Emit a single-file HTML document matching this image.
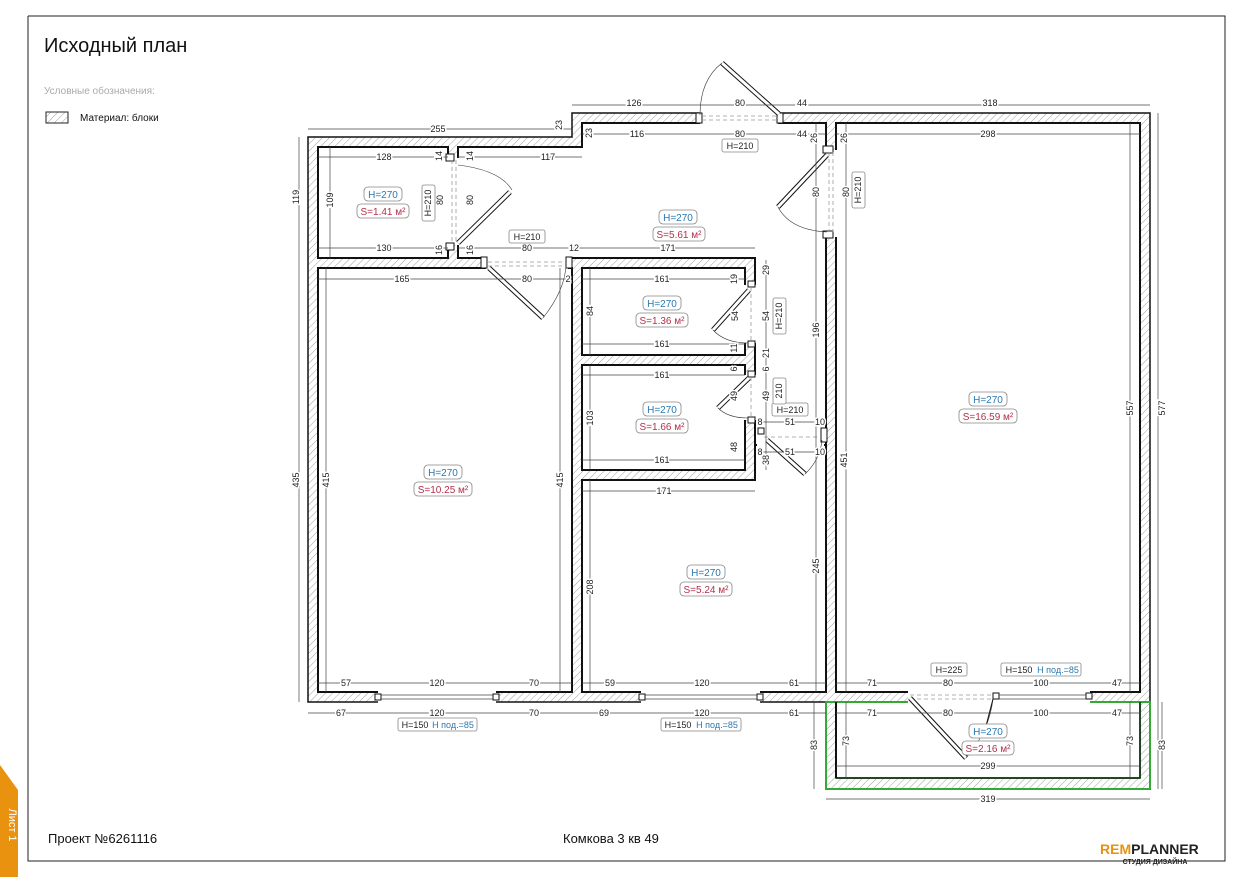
<!DOCTYPE html>
<html><head><meta charset="utf-8"><style>
html,body{margin:0;padding:0;background:#fff;}
svg{display:block;font-family:"Liberation Sans","DejaVu Sans",sans-serif;}
.d{font-size:9px;fill:#222;text-anchor:middle;stroke:#fff;stroke-width:3px;paint-order:stroke;}
.dl{stroke:#444;stroke-width:0.7;fill:none;}
.rm{fill:#fff;stroke:#111;stroke-width:2;}
.lb{fill:#fff;stroke:#888;stroke-width:0.8;}
.h{font-size:10px;fill:#2a78b0;text-anchor:middle;}
.s{font-size:10px;fill:#b3304c;text-anchor:middle;}
.k{font-size:9px;fill:#222;text-anchor:middle;}
</style></head><body>
<svg width="1241" height="877" viewBox="0 0 1241 877" xmlns="http://www.w3.org/2000/svg">
<defs>
<pattern id="hx" width="5" height="5" patternUnits="userSpaceOnUse" patternTransform="rotate(45)">
<rect width="5" height="5" fill="#fff"/><line x1="0" y1="0" x2="0" y2="5" stroke="#888" stroke-width="0.8"/>
</pattern>
</defs>
<!-- frame -->
<polyline points="28,16 1225,16 1225,861 28,861 28,16" fill="none" stroke="#222" stroke-width="1"/>
<polygon points="0,765 18,790 18,877 0,877" fill="#e8920f"/>
<text x="9" y="825" transform="rotate(90 9 825)" font-size="11" fill="#fff" text-anchor="middle">Лист 1</text>
<text x="44" y="52" font-size="20" fill="#111">Исходный план</text>
<text x="44" y="94" font-size="10" fill="#aaa">Условные обозначения:</text>
<rect x="46" y="112" width="22" height="11" fill="url(#hx)" stroke="#222" stroke-width="1"/>
<text x="80" y="121" font-size="10" fill="#111">Материал: блоки</text>
<text x="48" y="843" font-size="13" fill="#111">Проект №6261116</text>
<text x="563" y="843" font-size="13" fill="#111">Комкова 3 кв 49</text>
<text x="1100" y="854" font-size="14" font-weight="bold" fill="#e8920f">REM<tspan fill="#222">PLANNER</tspan></text>
<line x1="1092" y1="861" x2="1116" y2="861" stroke="#222"/>
<text x="1155" y="864" font-size="7" font-weight="bold" fill="#222" text-anchor="middle">СТУДИЯ ДИЗАЙНА</text>

<!-- walls -->
<polygon points="308,137 572,137 572,113 1150,113 1150,789 826,789 826,702 308,702" fill="url(#hx)" stroke="#111" stroke-width="1.5"/>
<rect x="826" y="702" width="324" height="87" fill="none" stroke="#3a3" stroke-width="2"/>
<!-- rooms -->
<rect class="rm" x="318" y="147" width="130" height="111"/>
<polygon class="rm" points="458,147 582,147 582,123 826,123 826,445 755,445 755,258 458,258"/>
<rect class="rm" x="318" y="268" width="254" height="424"/>
<rect class="rm" x="582" y="268" width="163" height="87"/>
<rect class="rm" x="582" y="365" width="163" height="105"/>
<polygon class="rm" points="582,480 755,480 755,445 826,445 826,692 582,692"/>
<rect x="757" y="432" width="67" height="16" fill="#fff"/>
<rect class="rm" x="836" y="123" width="304" height="569"/>
<rect class="rm" x="836" y="702" width="304" height="76" style="stroke:#3a3"/>
<line x1="836" y1="702" x2="836" y2="778" stroke="#111" stroke-width="2"/>
<line x1="836" y1="778" x2="1140" y2="778" stroke="#222" stroke-width="1.5"/>
<line x1="1140" y1="702" x2="1140" y2="778" stroke="#222" stroke-width="1.5"/>

<!-- openings -->
<g fill="#fff" stroke="#111" stroke-width="1">
<rect x="447" y="158" width="12" height="87" stroke="none"/>
<rect x="486" y="257" width="82" height="12" stroke="none"/>
<rect x="744" y="285" width="12" height="58" stroke="none"/>
<rect x="744" y="375" width="12" height="45" stroke="none"/>
<rect x="825" y="150" width="12" height="87" stroke="none"/>
<rect x="700" y="112" width="78" height="12" stroke="none"/>
<rect x="378" y="691" width="118" height="12" stroke="none"/>
<rect x="641" y="691" width="119" height="12" stroke="none"/>
<rect x="908" y="691" width="182" height="12" stroke="none"/>
<!-- jambs -->
<rect x="446" y="154" width="8" height="7"/><rect x="446" y="243" width="8" height="7"/>
<rect x="481" y="257" width="6" height="11"/><rect x="566" y="257" width="6" height="11"/>
<rect x="748" y="281" width="7" height="6"/><rect x="748" y="341" width="7" height="6"/>
<rect x="748" y="371" width="7" height="6"/><rect x="748" y="417" width="7" height="6"/>
<rect x="823" y="146" width="10" height="7"/><rect x="823" y="231" width="10" height="7"/>
<rect x="696" y="113" width="6" height="10"/><rect x="777" y="113" width="6" height="10"/>
<rect x="758" y="428" width="6" height="6"/><rect x="821" y="428" width="6" height="14"/>
<rect x="375" y="694" width="6" height="6"/><rect x="493" y="694" width="6" height="6"/>
<rect x="639" y="694" width="6" height="6"/><rect x="757" y="694" width="6" height="6"/>
<rect x="993" y="693" width="6" height="6"/><rect x="1086" y="693" width="6" height="6"/>
</g>
<g stroke="#999" stroke-width="0.8" stroke-dasharray="4,3" fill="none">
<line x1="452" y1="160" x2="452" y2="244"/><line x1="456" y1="160" x2="456" y2="244"/>
<line x1="488" y1="262" x2="566" y2="262"/><line x1="488" y1="266" x2="566" y2="266"/>
<line x1="751" y1="287" x2="751" y2="341"/><line x1="751" y1="377" x2="751" y2="418"/>
<line x1="829" y1="152" x2="829" y2="232"/><line x1="833" y1="152" x2="833" y2="232"/>
<line x1="702" y1="116" x2="777" y2="116"/><line x1="702" y1="120" x2="777" y2="120"/>
<line x1="764" y1="437" x2="821" y2="437"/>
<line x1="910" y1="695" x2="993" y2="695"/><line x1="910" y1="699" x2="993" y2="699"/>
</g>
<g stroke="#444" stroke-width="0.7">
<line x1="381" y1="695" x2="493" y2="695"/><line x1="381" y1="699" x2="493" y2="699"/>
<line x1="645" y1="695" x2="757" y2="695"/><line x1="645" y1="699" x2="757" y2="699"/>
<line x1="999" y1="695" x2="1086" y2="695"/><line x1="999" y1="699" x2="1086" y2="699"/>
</g>
<!-- door leaves & arcs -->
<g stroke="#111" stroke-width="5" stroke-linecap="butt"><line x1="458" y1="243" x2="510" y2="192"/><line x1="489" y1="268" x2="543" y2="318"/><line x1="749" y1="290" x2="713" y2="330"/><line x1="749" y1="378" x2="718" y2="408"/><line x1="827" y1="155" x2="778" y2="207"/><line x1="779" y1="114" x2="722" y2="63"/><line x1="767" y1="440" x2="805" y2="474"/><line x1="910" y1="698" x2="966" y2="758"/></g>
<g stroke="#fff" stroke-width="3"><line x1="458" y1="243" x2="510" y2="192"/><line x1="489" y1="268" x2="543" y2="318"/><line x1="749" y1="290" x2="713" y2="330"/><line x1="749" y1="378" x2="718" y2="408"/><line x1="827" y1="155" x2="778" y2="207"/><line x1="779" y1="114" x2="722" y2="63"/><line x1="767" y1="440" x2="805" y2="474"/><line x1="910" y1="698" x2="966" y2="758"/></g>
<g stroke="#333" stroke-width="0.6" fill="none">
<path d="M458,165 Q500,170 512,190"/><path d="M543,318 Q565,290 566,265"/><path d="M713,330 Q725,343 748,343"/><path d="M718,408 Q728,418 748,418"/><path d="M778,207 Q790,230 827,232"/><path d="M722,63 Q700,80 700,115"/><path d="M805,474 Q820,460 822,440"/><path d="M966,758 Q990,730 993,698"/>
</g>

<!-- dimension lines -->
<g class="dl">
<line x1="308" y1="129" x2="572" y2="129"/><line x1="572" y1="105" x2="1150" y2="105"/>
<line x1="582" y1="134" x2="826" y2="134"/><line x1="836" y1="134" x2="1140" y2="134"/>
<line x1="299" y1="137" x2="299" y2="702"/><line x1="1158" y1="113" x2="1158" y2="789"/>
<line x1="826" y1="799" x2="1150" y2="799"/><line x1="308" y1="713" x2="826" y2="713"/>
<line x1="318" y1="157" x2="448" y2="157"/><line x1="458" y1="157" x2="582" y2="157"/>
<line x1="318" y1="248" x2="448" y2="248"/><line x1="458" y1="248" x2="755" y2="248"/>
<line x1="318" y1="279" x2="572" y2="279"/><line x1="582" y1="279" x2="745" y2="279"/>
<line x1="582" y1="344" x2="745" y2="344"/><line x1="582" y1="375" x2="745" y2="375"/><line x1="582" y1="460" x2="745" y2="460"/>
<line x1="582" y1="491" x2="755" y2="491"/>
<line x1="318" y1="683" x2="572" y2="683"/><line x1="582" y1="683" x2="826" y2="683"/><line x1="836" y1="683" x2="1140" y2="683"/>
<line x1="836" y1="713" x2="1140" y2="713"/><line x1="836" y1="766" x2="1140" y2="766"/>
<line x1="326" y1="268" x2="326" y2="692"/><line x1="560" y1="268" x2="560" y2="692"/>
<line x1="330" y1="147" x2="330" y2="258"/><line x1="590" y1="268" x2="590" y2="355"/><line x1="590" y1="365" x2="590" y2="470"/><line x1="590" y1="480" x2="590" y2="692"/>
<line x1="816" y1="123" x2="816" y2="692"/><line x1="846" y1="123" x2="846" y2="692"/><line x1="1130" y1="123" x2="1130" y2="692"/>
<line x1="814" y1="702" x2="814" y2="789"/><line x1="846" y1="702" x2="846" y2="778"/><line x1="1130" y1="702" x2="1130" y2="778"/><line x1="1162" y1="702" x2="1162" y2="789"/>
<line x1="766" y1="260" x2="766" y2="470"/><line x1="760" y1="422" x2="826" y2="422"/><line x1="760" y1="452" x2="826" y2="452"/>
</g>

<!-- dim text -->
<g class="d">
<text x="438" y="132">255</text><text x="634" y="106">126</text><text x="740" y="106">80</text><text x="802" y="106">44</text><text x="990" y="106">318</text>
<text x="637" y="137">116</text><text x="740" y="137">80</text><text x="802" y="137">44</text><text x="988" y="137">298</text>
<text x="384" y="160">128</text><text x="548" y="160">117</text><text x="384" y="251">130</text><text x="527" y="251">80</text><text x="574" y="251">12</text><text x="668" y="251">171</text>
<text x="402" y="282">165</text><text x="527" y="282">80</text><text x="568" y="282">2</text><text x="662" y="282">161</text><text x="662" y="347">161</text><text x="662" y="378">161</text><text x="662" y="463">161</text><text x="664" y="494">171</text>
<text x="760" y="425">8</text><text x="790" y="425">51</text><text x="820" y="425">10</text><text x="760" y="455">8</text><text x="790" y="455">51</text><text x="820" y="455">10</text>
<text x="346" y="686">57</text><text x="437" y="686">120</text><text x="534" y="686">70</text><text x="610" y="686">59</text><text x="702" y="686">120</text><text x="794" y="686">61</text>
<text x="341" y="716">67</text><text x="437" y="716">120</text><text x="534" y="716">70</text><text x="604" y="716">69</text><text x="702" y="716">120</text><text x="794" y="716">61</text>
<text x="872" y="686">71</text><text x="948" y="686">80</text><text x="1041" y="686">100</text><text x="1117" y="686">47</text>
<text x="872" y="716">71</text><text x="948" y="716">80</text><text x="1041" y="716">100</text><text x="1117" y="716">47</text>
<text x="988" y="769">299</text><text x="988" y="802">319</text>
<text x="559" y="128" transform="rotate(-90 559 125)">23</text><text x="589" y="136" transform="rotate(-90 589 133)">23</text>
<text x="814" y="141" transform="rotate(-90 814 138)">26</text><text x="844" y="141" transform="rotate(-90 844 138)">26</text>
<text x="439" y="159" transform="rotate(-90 439 156)">14</text><text x="470" y="159" transform="rotate(-90 470 156)">14</text>
<text x="330" y="203" transform="rotate(-90 330 200)">109</text><text x="440" y="203" transform="rotate(-90 440 200)">80</text><text x="470" y="203" transform="rotate(-90 470 200)">80</text>
<text x="439" y="253" transform="rotate(-90 439 250)">16</text><text x="470" y="253" transform="rotate(-90 470 250)">16</text>
<text x="296" y="200" transform="rotate(-90 296 197)">119</text><text x="296" y="483" transform="rotate(-90 296 480)">435</text>
<text x="326" y="483" transform="rotate(-90 326 480)">415</text><text x="560" y="483" transform="rotate(-90 560 480)">415</text>
<text x="734" y="282" transform="rotate(-90 734 279)">19</text><text x="766" y="273" transform="rotate(-90 766 270)">29</text>
<text x="590" y="314" transform="rotate(-90 590 311)">84</text><text x="735" y="319" transform="rotate(-90 735 316)">54</text><text x="766" y="319" transform="rotate(-90 766 316)">54</text>
<text x="734" y="351" transform="rotate(-90 734 348)">11</text><text x="766" y="356" transform="rotate(-90 766 353)">21</text>
<text x="734" y="372" transform="rotate(-90 734 369)">6</text><text x="766" y="372" transform="rotate(-90 766 369)">6</text>
<text x="590" y="421" transform="rotate(-90 590 418)">103</text><text x="734" y="399" transform="rotate(-90 734 396)">49</text><text x="766" y="399" transform="rotate(-90 766 396)">49</text>
<text x="734" y="450" transform="rotate(-90 734 447)">48</text><text x="766" y="463" transform="rotate(-90 766 460)">38</text>
<text x="816" y="333" transform="rotate(-90 816 330)">196</text><text x="844" y="463" transform="rotate(-90 844 460)">451</text>
<text x="590" y="590" transform="rotate(-90 590 587)">208</text><text x="816" y="569" transform="rotate(-90 816 566)">245</text>
<text x="816" y="195" transform="rotate(-90 816 192)">80</text><text x="846" y="195" transform="rotate(-90 846 192)">80</text>
<text x="1130" y="411" transform="rotate(-90 1130 408)">557</text><text x="1162" y="411" transform="rotate(-90 1162 408)">577</text>
<text x="814" y="748" transform="rotate(-90 814 745)">83</text><text x="846" y="744" transform="rotate(-90 846 741)">73</text><text x="1130" y="744" transform="rotate(-90 1130 741)">73</text><text x="1162" y="748" transform="rotate(-90 1162 745)">83</text>
</g>

<!-- H=210 boxes -->
<g>
<rect class="lb" x="509" y="230" width="36" height="13" rx="2"/><text class="k" x="527" y="240">H=210</text>
<rect class="lb" x="722" y="139" width="36" height="13" rx="2"/><text class="k" x="740" y="149">H=210</text>
<rect class="lb" x="772" y="403" width="36" height="13" rx="2"/><text class="k" x="790" y="413">H=210</text>
<rect class="lb" x="422" y="185" width="13" height="36" rx="2"/><text class="k" x="428" y="206" transform="rotate(-90 428 203)">H=210</text>
<rect class="lb" x="773" y="298" width="13" height="36" rx="2"/><text class="k" x="779" y="319" transform="rotate(-90 779 316)">H=210</text>
<rect class="lb" x="773" y="378" width="13" height="26" rx="2"/><text class="k" x="779" y="394" transform="rotate(-90 779 391)">210</text>
<rect class="lb" x="852" y="172" width="13" height="36" rx="2"/><text class="k" x="858" y="193" transform="rotate(-90 858 190)">H=210</text>
<rect class="lb" x="931" y="663" width="36" height="13" rx="2"/><text class="k" x="949" y="673">H=225</text>
<rect class="lb" x="1001" y="663" width="80" height="13" rx="2"/><text class="k" x="1019" y="673">H=150</text><text x="1058" y="673" font-size="9" fill="#2a78b0" text-anchor="middle">H под.=85</text>
<rect class="lb" x="398" y="718" width="79" height="13" rx="2"/><text class="k" x="415" y="728">H=150</text><text x="453" y="728" font-size="9" fill="#2a78b0" text-anchor="middle">H под.=85</text>
<rect class="lb" x="661" y="718" width="80" height="13" rx="2"/><text class="k" x="678" y="728">H=150</text><text x="717" y="728" font-size="9" fill="#2a78b0" text-anchor="middle">H под.=85</text>
</g>
<line x1="993" y1="699" x2="986" y2="726" stroke="#111" stroke-width="1"/>

<!-- room labels -->
<g>
<rect class="lb" x="364" y="187" width="38" height="14" rx="4"/><text class="h" x="383" y="198">H=270</text>
<rect class="lb" x="357" y="204" width="52" height="14" rx="4"/><text class="s" x="383" y="215">S=1.41 м²</text>
<rect class="lb" x="659" y="210" width="38" height="14" rx="4"/><text class="h" x="678" y="221">H=270</text>
<rect class="lb" x="653" y="227" width="52" height="14" rx="4"/><text class="s" x="679" y="238">S=5.61 м²</text>
<rect class="lb" x="643" y="296" width="38" height="14" rx="4"/><text class="h" x="662" y="307">H=270</text>
<rect class="lb" x="636" y="313" width="52" height="14" rx="4"/><text class="s" x="662" y="324">S=1.36 м²</text>
<rect class="lb" x="643" y="402" width="38" height="14" rx="4"/><text class="h" x="662" y="413">H=270</text>
<rect class="lb" x="636" y="419" width="52" height="14" rx="4"/><text class="s" x="662" y="430">S=1.66 м²</text>
<rect class="lb" x="424" y="465" width="38" height="14" rx="4"/><text class="h" x="443" y="476">H=270</text>
<rect class="lb" x="414" y="482" width="58" height="14" rx="4"/><text class="s" x="443" y="493">S=10.25 м²</text>
<rect class="lb" x="687" y="565" width="38" height="14" rx="4"/><text class="h" x="706" y="576">H=270</text>
<rect class="lb" x="680" y="582" width="52" height="14" rx="4"/><text class="s" x="706" y="593">S=5.24 м²</text>
<rect class="lb" x="969" y="392" width="38" height="14" rx="4"/><text class="h" x="988" y="403">H=270</text>
<rect class="lb" x="959" y="409" width="58" height="14" rx="4"/><text class="s" x="988" y="420">S=16.59 м²</text>
<rect class="lb" x="969" y="724" width="38" height="14" rx="4"/><text class="h" x="988" y="735">H=270</text>
<rect class="lb" x="962" y="741" width="52" height="14" rx="4"/><text class="s" x="988" y="752">S=2.16 м²</text>
</g>
</svg>
</body></html>
